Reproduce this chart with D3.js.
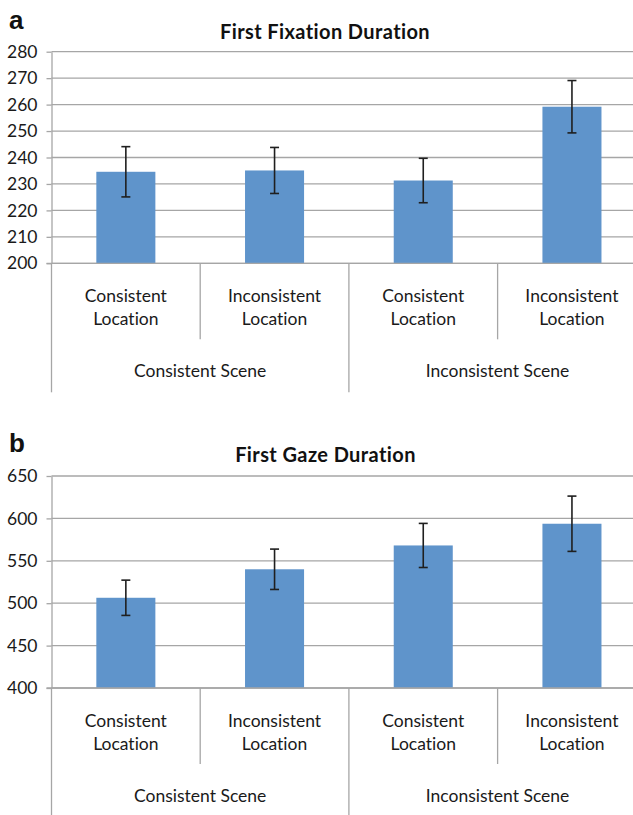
<!DOCTYPE html>
<html>
<head>
<meta charset="utf-8">
<script src="https://cdn.jsdelivr.net/npm/d3@7"></script>
<style>
    body { margin: 0; background: #fff; }
    svg { display: block; font-variant-ligatures: none; }
    text { font-variant-ligatures: none; font-feature-settings: "liga" 0, "clig" 0; }
    .axis path, .axis line { stroke: #a6a6a6; }
    .axis text { font-family: Lato, "Open Sans", sans-serif; font-size: 17.5px; fill: #1a1a1a; }
</style>
</head>
<body>
<div id="chart"></div>
<script>

// Data
const locationLabels = [["Consistent", "Location"], ["Inconsistent", "Location"], ["Consistent", "Location"], ["Inconsistent", "Location"]];
const sceneLabels = ["Consistent Scene", "Inconsistent Scene"];

const fixationMeans = [234.6, 235.1, 231.3, 259.2];
const fixationErrors = [9.5, 8.7, 8.4, 9.9];
const fixationTicks = [200, 210, 220, 230, 240, 250, 260, 270, 280];

const gazeMeans = [506.4, 540.0, 568.1, 593.7];
const gazeErrors = [20.8, 23.8, 26.0, 32.6];
const gazeTicks = [400, 450, 500, 550, 600, 650];

class BarVis {
    constructor(svg, config, means, errors, ticks) {
        this.svg = svg;
        this.config = config;
        this.means = means;
        this.errors = errors;
        this.ticks = ticks;

        this.initVis();
    }

    initVis() {
        let vis = this;
        let c = vis.config;

        vis.g = vis.svg.append("g");

        // Scales
        vis.x = d3.scaleBand()
            .domain(d3.range(vis.means.length))
            .range([c.left, c.right])
            .padding(0);

        vis.y = d3.scaleLinear()
            .domain(d3.extent(vis.ticks))
            .range([c.bottom, c.top]);

        vis.displayData = vis.means.map((m, i) => ({ i: i, mean: m, err: vis.errors[i] }));

        // Gridlines
        vis.g.append("g")
            .selectAll("line")
            .data(vis.ticks)
            .enter()
            .append("line")
            .attr("x1", c.left)
            .attr("x2", c.right)
            .attr("y1", d => vis.y(d))
            .attr("y2", d => vis.y(d))
            .attr("stroke", "#a6a6a6")
            .attr("stroke-width", 1.3);

        // Y axis
        vis.yAxis = d3.axisLeft(vis.y)
            .tickValues(vis.ticks)
            .tickSize(5)
            .tickPadding(9)
            .tickSizeOuter(0);

        vis.g.append("g")
            .attr("class", "axis y-axis")
            .attr("transform", "translate(" + c.left + ",0)")
            .call(vis.yAxis)
            .call(g => g.selectAll("line, path").attr("stroke-width", 1.3));

        // Vertical separators below the axis
        let bw = vis.x.step();
        vis.g.append("line")
            .attr("x1", c.left).attr("x2", c.left)
            .attr("y1", c.bottom).attr("y2", c.bottom + 129)
            .attr("stroke", "#a6a6a6").attr("stroke-width", 1.3);

        vis.g.append("g")
            .selectAll("line")
            .data(d3.range(1, vis.means.length + 1))
            .enter()
            .append("line")
            .attr("x1", d => c.left + d * bw)
            .attr("x2", d => c.left + d * bw)
            .attr("y1", c.bottom)
            .attr("y2", d => c.bottom + (d % 2 === 0 ? 129 : 76))
            .attr("stroke", "#a6a6a6")
            .attr("stroke-width", 1.3);

        // Bars
        vis.barWidth = bw * 0.397;
        vis.g.append("g")
            .selectAll("rect")
            .data(vis.displayData)
            .enter()
            .append("rect")
            .attr("x", d => vis.x(d.i) + (bw - vis.barWidth) / 2)
            .attr("y", d => vis.y(d.mean))
            .attr("width", vis.barWidth)
            .attr("height", d => vis.y(vis.y.domain()[0]) - vis.y(d.mean))
            .attr("fill", "#5f94cb");

        // Error bars
        let eb = vis.g.append("g")
            .selectAll("g")
            .data(vis.displayData)
            .enter()
            .append("g")
            .attr("stroke", "#1f1f1f")
            .attr("stroke-width", 1.6);

        let cx = d => vis.x(d.i) + bw / 2;
        eb.append("line")
            .attr("x1", cx).attr("x2", cx)
            .attr("y1", d => vis.y(d.mean + d.err))
            .attr("y2", d => vis.y(d.mean - d.err));
        eb.append("line")
            .attr("x1", d => cx(d) - 4.5).attr("x2", d => cx(d) + 4.5)
            .attr("y1", d => vis.y(d.mean + d.err))
            .attr("y2", d => vis.y(d.mean + d.err));
        eb.append("line")
            .attr("x1", d => cx(d) - 4.5).attr("x2", d => cx(d) + 4.5)
            .attr("y1", d => vis.y(d.mean - d.err))
            .attr("y2", d => vis.y(d.mean - d.err));

        // Baseline redrawn on top
        vis.g.append("line")
            .attr("x1", c.left - 5).attr("x2", c.right)
            .attr("y1", c.bottom).attr("y2", c.bottom)
            .attr("stroke", "#a6a6a6").attr("stroke-width", 1.3);

        // Category labels
        let labelFont = "Lato, 'Open Sans', sans-serif";
        let cat = vis.g.append("g")
            .selectAll("text")
            .data(locationLabels)
            .enter()
            .append("text")
            .attr("text-anchor", "middle")
            .attr("font-family", labelFont)
            .attr("font-size", "17.5px")
            .attr("fill", "#1a1a1a");

        cat.selectAll("tspan")
            .data((d, i) => d.map(t => ({ t: t, i: i })))
            .enter()
            .append("tspan")
            .attr("x", d => vis.x(d.i) + bw / 2)
            .attr("y", (d, j) => c.bottom + 39 + j * 23)
            .text(d => d.t);

        vis.g.append("g")
            .selectAll("text")
            .data(sceneLabels)
            .enter()
            .append("text")
            .attr("text-anchor", "middle")
            .attr("x", (d, i) => c.left + bw * (2 * i + 1))
            .attr("y", c.bottom + 114)
            .attr("font-family", labelFont)
            .attr("font-size", "17.5px")
            .attr("fill", "#1a1a1a")
            .text(d => d);

        // Title and panel letter
        vis.g.append("text")
            .attr("x", c.titleX)
            .attr("y", c.titleY)
            .attr("text-anchor", "middle")
            .attr("font-family", labelFont)
            .attr("font-weight", "bold")
            .attr("font-size", "20px")
            .attr("letter-spacing", "0.4px")
            .attr("fill", "#111")
            .text(c.title);

        vis.g.append("text")
            .attr("x", 9)
            .attr("y", c.letterY)
            .attr("font-family", "'Liberation Sans', Arial, sans-serif")
            .attr("font-weight", "bold")
            .attr("font-size", "26px")
            .attr("fill", "#111")
            .text(c.letter);
    }
}

let svg = d3.select("#chart").append("svg")
    .attr("width", 633)
    .attr("height", 815);

new BarVis(svg, {
    left: 51.5, right: 646.3, top: 51.7, bottom: 263.3,
    title: "First Fixation Duration", titleX: 325, titleY: 39.3,
    letter: "a", letterY: 28.5
}, fixationMeans, fixationErrors, fixationTicks);

new BarVis(svg, {
    left: 51.5, right: 646.3, top: 476, bottom: 688,
    title: "First Gaze Duration", titleX: 325.5, titleY: 461.7,
    letter: "b", letterY: 451.7
}, gazeMeans, gazeErrors, gazeTicks);

</script>
</body>
</html>
